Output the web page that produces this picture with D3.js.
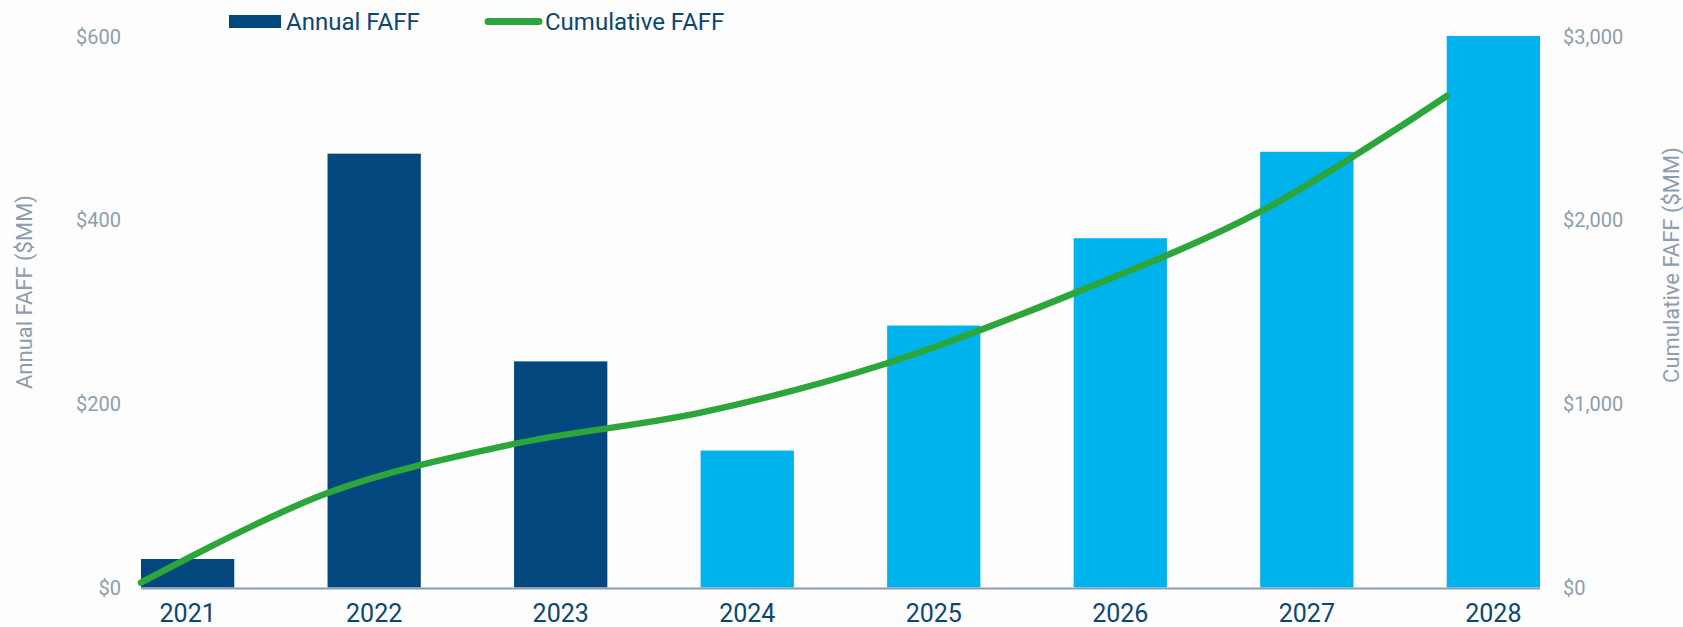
<!DOCTYPE html>
<html>
<head>
<meta charset="utf-8">
<script src="https://cdn.jsdelivr.net/npm/d3@7/dist/d3.min.js"></script>
<style>
  html, body { margin: 0; padding: 0; background: #fdfdfd; }
  svg { display: block; font-family: Roboto, "Noto Sans", sans-serif; }
</style>
</head>
<body>
<svg id="chart" width="1683" height="627"></svg>
<script>
// Years on the category axis
const years = ["2021", "2022", "2023", "2024", "2025", "2026", "2027", "2028"];
// Annual FAFF ($MM), left axis
const annualFAFF = [31, 472, 246, 149, 285, 380, 474, 600];
// Cumulative FAFF ($MM), right axis
const cumulativeFAFF = [26, 514, 781, 951, 1220, 1600, 2044, 2674];
// Years before this one are actuals (dark), the rest are projections (light)
const projectedFrom = "2024";
// Axis ticks
const leftTicks = [0, 200, 400, 600];
const rightTicks = [0, 1000, 2000, 3000];

const navy = "#03477f";
const sky = "#00b3ec";
const green = "#2ca63b";
const axisGray = "#8d9dae";
const labelNavy = "#0c4677";

const svg = d3.select("#chart");
const plot = { left: 141, right: 1540, top: 36, bottom: 587.5 };

const x = d3.scaleBand()
  .domain(years)
  .range([plot.left, plot.right])
  .paddingInner(0.5)
  .paddingOuter(0);

const yLeft = d3.scaleLinear().domain([0, 600]).range([plot.bottom, plot.top]);
const yRight = d3.scaleLinear().domain([0, 3000]).range([plot.bottom, plot.top]);

// Bars
svg.append("g")
  .selectAll("rect")
  .data(years)
  .join("rect")
  .attr("x", d => x(d))
  .attr("y", (d, i) => yLeft(annualFAFF[i]))
  .attr("width", x.bandwidth())
  .attr("height", (d, i) => yLeft(0) - yLeft(annualFAFF[i]))
  .attr("fill", d => d < projectedFrom ? navy : sky);

// Baseline
svg.append("line")
  .attr("x1", plot.left).attr("x2", plot.right)
  .attr("y1", plot.bottom + 1).attr("y2", plot.bottom + 1)
  .attr("stroke", axisGray).attr("stroke-width", 2);

// Cumulative line, anchored at the left edge of each year's band
const line = d3.line()
  .x((d, i) => x(years[i]))
  .y(d => yRight(d))
  .curve(d3.curveCatmullRom.alpha(0.5));

svg.append("path")
  .datum(cumulativeFAFF)
  .attr("d", line)
  .attr("fill", "none")
  .attr("stroke", green)
  .attr("stroke-width", 6.5)
  .attr("stroke-linecap", "round")
  .attr("stroke-linejoin", "round");

// Left axis
const leftAxis = svg.append("g")
  .attr("transform", `translate(121,0)`)
  .call(d3.axisLeft(yLeft).tickValues(leftTicks).tickSize(0).tickPadding(0)
    .tickFormat(d => "$" + d3.format(",")(d)));
leftAxis.select(".domain").remove();
leftAxis.selectAll("text")
  .attr("fill", axisGray).attr("font-size", 20).attr("dy", "0.35em")
  .attr("font-family", "Roboto");

// Right axis
const rightAxis = svg.append("g")
  .attr("transform", `translate(1563,0)`)
  .call(d3.axisRight(yRight).tickValues(rightTicks).tickSize(0).tickPadding(0)
    .tickFormat(d => "$" + d3.format(",")(d)));
rightAxis.select(".domain").remove();
rightAxis.selectAll("text")
  .attr("fill", axisGray).attr("font-size", 20).attr("dy", "0.35em")
  .attr("font-family", "Roboto");

// Category axis
const bottomAxis = svg.append("g")
  .attr("transform", `translate(0,${plot.bottom})`)
  .call(d3.axisBottom(x).tickSize(0).tickPadding(0));
bottomAxis.select(".domain").remove();
bottomAxis.selectAll("text")
  .attr("fill", labelNavy).attr("font-size", 25)
  .attr("dy", null).attr("y", 34.5)
  .attr("font-family", "Roboto");

// Axis titles
svg.append("text")
  .attr("transform", "translate(32,292) rotate(-90)")
  .attr("text-anchor", "middle")
  .attr("fill", axisGray).attr("font-size", 22)
  .text("Annual FAFF ($MM)");

svg.append("text")
  .attr("transform", "translate(1679,265) rotate(-90)")
  .attr("text-anchor", "middle")
  .attr("fill", axisGray).attr("font-size", 22)
  .text("Cumulative FAFF ($MM)");

// Legend
const legend = svg.append("g");
legend.append("rect")
  .attr("x", 229).attr("y", 15).attr("width", 52).attr("height", 13)
  .attr("fill", navy);
legend.append("text")
  .attr("x", 286).attr("y", 29.5)
  .attr("fill", labelNavy).attr("font-size", 24)
  .text("Annual FAFF");
legend.append("line")
  .attr("x1", 488).attr("x2", 539).attr("y1", 21.5).attr("y2", 21.5)
  .attr("stroke", green).attr("stroke-width", 7).attr("stroke-linecap", "round");
legend.append("text")
  .attr("x", 545).attr("y", 29.5)
  .attr("fill", labelNavy).attr("font-size", 24)
  .text("Cumulative FAFF");
</script>
</body>
</html>
